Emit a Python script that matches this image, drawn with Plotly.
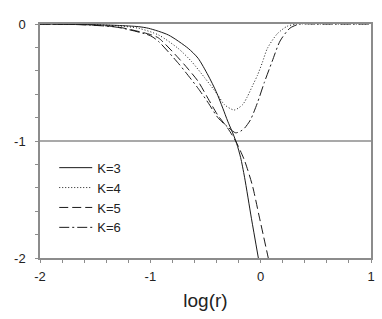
import plotly.graph_objects as go

# Data
K3_x = [-2.0, -1.6, -1.3, -1.105, -1.015, -0.836, -0.657, -0.567, -0.478, -0.403, -0.343, -0.299, -0.254, -0.218, -0.182, -0.146, -0.084, -0.021]
K3_y = [0.0, -0.004, -0.012, -0.023, -0.037, -0.094, -0.208, -0.293, -0.436, -0.578, -0.72, -0.83, -0.93, -1.02, -1.14, -1.31, -1.66, -2.0]

K4_x = [-2.0, -1.6, -1.3, -1.105, -0.925, -0.746, -0.627, -0.507, -0.388, -0.328, -0.239, -0.164, -0.12, -0.075, -0.03, 0.015, 0.06, 0.149, 0.239, 0.33, 0.5, 1.0]
K4_y = [0.0, -0.005, -0.015, -0.037, -0.094, -0.21, -0.32, -0.46, -0.607, -0.69, -0.735, -0.69, -0.62, -0.53, -0.44, -0.33, -0.21, -0.085, -0.02, 0.0, 0.0, 0.0]

K5_x = [-2.0, -1.6, -1.3, -1.0, -0.925, -0.746, -0.657, -0.567, -0.478, -0.388, -0.299, -0.227, -0.149, -0.075, -0.012, 0.069]
K5_y = [0.0, -0.006, -0.025, -0.09, -0.12, -0.29, -0.385, -0.49, -0.635, -0.78, -0.89, -1.0, -1.16, -1.38, -1.65, -2.0]

K6_x = [-2.0, -1.6, -1.3, -1.0, -0.925, -0.746, -0.657, -0.567, -0.478, -0.388, -0.299, -0.227, -0.18, -0.146, -0.093, -0.03, 0.033, 0.104, 0.176, 0.266, 0.355, 0.5, 1.0]
K6_y = [0.0, -0.007, -0.028, -0.1, -0.15, -0.336, -0.44, -0.55, -0.67, -0.8, -0.88, -0.93, -0.915, -0.89, -0.82, -0.675, -0.5, -0.32, -0.145, -0.035, 0.0, 0.0, 0.0]

REF_LEVEL = -1
X_TICKS = [-2, -1, 0, 1]
X_TICK_LABELS = ["-2", "-1", "0", "1"]
Y_TICKS = [0, -1, -2]
Y_TICK_LABELS = ["0", "-1", "-2"]

series = [
    ("K=3", K3_x, K3_y, "solid"),
    ("K=4", K4_x, K4_y, "1px,2px"),
    ("K=5", K5_x, K5_y, "9px,4px"),
    ("K=6", K6_x, K6_y, "10px,3px,2px,3px"),
]

AXIS_COLOR = "#8c8c8c"
FONT = "Liberation Sans, Arial, sans-serif"

fig = go.Figure()
for name, xs, ys, dash in series:
    fig.add_trace(go.Scatter(
        x=xs, y=ys, name=name, mode="lines",
        line=dict(color="#1a1a1a", width=1, dash=dash, shape="spline", smoothing=0.7),
    ))

fig.add_hline(y=REF_LEVEL, line=dict(color=AXIS_COLOR, width=1.5), layer="below")

fig.update_layout(
    width=382, height=319,
    margin=dict(l=40, r=7, t=24, b=61),
    paper_bgcolor="white", plot_bgcolor="white",
    font=dict(family=FONT, size=13, color="#222222"),
    showlegend=True,
    legend=dict(
        x=0.043, y=0.45, xanchor="left", yanchor="top",
        bgcolor="rgba(0,0,0,0)", borderwidth=0,
        font=dict(family=FONT, size=13, color="#222222"),
        tracegroupgap=0, itemwidth=33,
    ),
)
fig.update_xaxes(
    range=[-2, 1], showgrid=False, zeroline=False,
    showline=True, linecolor=AXIS_COLOR, linewidth=1.5, mirror=True,
    ticks="outside", ticklen=3, tickcolor=AXIS_COLOR, tickwidth=1,
    tickvals=X_TICKS, ticktext=X_TICK_LABELS, ticklabelstandoff=3,
    ticklabeloverflow="allow",
    minor=dict(dtick=0.2, tick0=-2, ticks="outside", ticklen=3, tickcolor=AXIS_COLOR, showgrid=False),
    title=dict(text="log(r)", font=dict(family=FONT, size=19, color="#222222"), standoff=10),
    tickfont=dict(family=FONT, size=13, color="#222222"),
)
fig.update_yaxes(
    range=[-2, 0], showgrid=False, zeroline=False,
    showline=True, linecolor=AXIS_COLOR, linewidth=1.5, mirror=True,
    ticks="outside", ticklen=3, tickcolor=AXIS_COLOR, tickwidth=1,
    tickvals=Y_TICKS, ticktext=Y_TICK_LABELS, ticklabelstandoff=7,
    ticklabeloverflow="allow",
    minor=dict(dtick=0.2, tick0=-2, ticks="outside", ticklen=3, tickcolor=AXIS_COLOR, showgrid=False),
    tickfont=dict(family=FONT, size=13, color="#222222"),
)

fig.write_html("out.html", config={"displayModeBar": False},
               post_script="document.body.style.margin='0';")
